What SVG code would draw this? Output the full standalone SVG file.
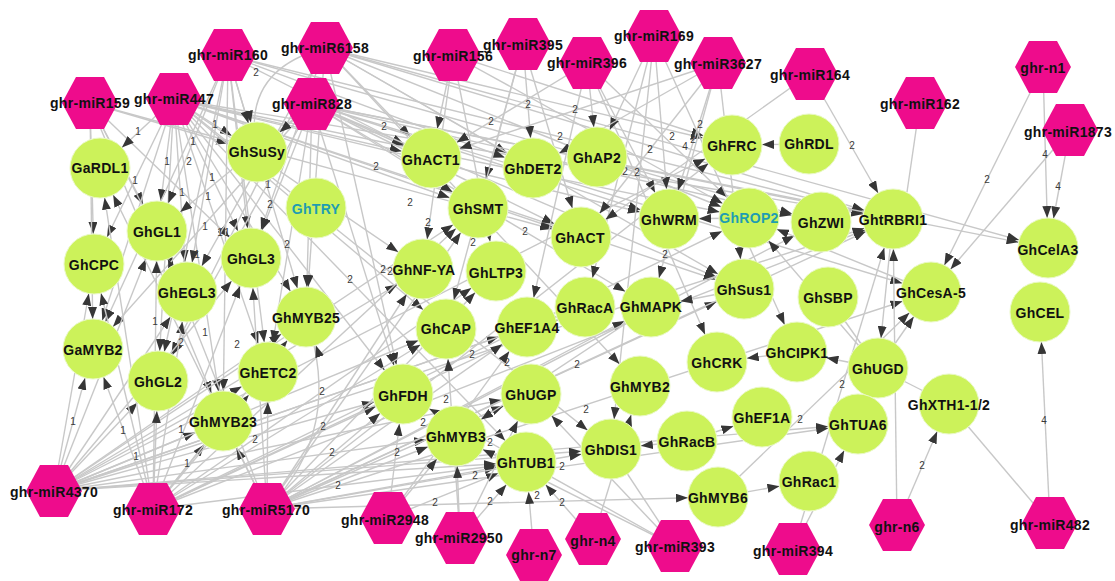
<svg xmlns="http://www.w3.org/2000/svg" width="1115" height="581" viewBox="0 0 1115 581">
<defs>
<marker id="a" markerUnits="userSpaceOnUse" viewBox="0 0 12 9" markerWidth="12" markerHeight="9" refX="42" refY="4.5" orient="auto"><path d="M0,0 L12,4.5 L0,9 z" fill="#363636"/></marker>
<polygon id="hx" points="-28,0 -14,-26 14,-26 28,0 14,26 -14,26" fill="#ee0c8c"/>
<style>
.e line, .e path { stroke:#c8c8c8; stroke-width:1.4; fill:none; marker-end:url(#a); }
.e .n { marker-end:none; }
.el text { font-family:"Liberation Sans", Arial, sans-serif; font-size:10px; fill:#3a3a3a; text-anchor:middle; }
.g circle { fill:#ccf25a; stroke:#eaf9c6; stroke-width:1; }
.t { font-family:"Liberation Sans", Arial, sans-serif; font-weight:bold; font-size:14px; letter-spacing:0.3px; fill:#111; text-anchor:middle; }
.teal { fill:#1e9db2; }
</style>
</defs>
<rect width="1115" height="581" fill="#fff"/>
<g id="connectors" class="e">
<!-- ghr-miR159 -->
<line x1="90" y1="103" x2="257" y2="152"/><line x1="90" y1="103" x2="157" y2="231"/><line x1="90" y1="103" x2="94" y2="264"/><line x1="90" y1="103" x2="251" y2="258"/><line x1="90" y1="103" x2="187" y2="292"/><line x1="90" y1="103" x2="223" y2="421"/><line x1="90" y1="103" x2="581" y2="237"/><line x1="90" y1="103" x2="93" y2="349"/>
<!-- ghr-miR447 -->
<line x1="174" y1="99" x2="100" y2="168"/><line x1="174" y1="99" x2="257" y2="152"/><line x1="174" y1="99" x2="157" y2="231"/><line x1="174" y1="99" x2="94" y2="264"/><line x1="174" y1="99" x2="251" y2="258"/><line x1="174" y1="99" x2="187" y2="292"/><line x1="174" y1="99" x2="93" y2="349"/><line x1="174" y1="99" x2="158" y2="381"/><line x1="174" y1="99" x2="268" y2="372"/><line x1="174" y1="99" x2="306" y2="317"/><line x1="174" y1="99" x2="223" y2="421"/><line x1="174" y1="99" x2="431" y2="158"/><line x1="174" y1="99" x2="478" y2="208"/><line x1="174" y1="99" x2="581" y2="237"/><line x1="174" y1="99" x2="669" y2="219"/><line x1="174" y1="99" x2="744" y2="289"/><line x1="174" y1="99" x2="893" y2="219"/><line x1="174" y1="99" x2="403" y2="394"/><line x1="174" y1="99" x2="611" y2="449"/><line x1="174" y1="99" x2="526" y2="462"/><line x1="174" y1="99" x2="446" y2="329"/><line x1="174" y1="99" x2="749" y2="218"/><line x1="174" y1="99" x2="423" y2="269"/>
<!-- ghr-miR160 -->
<line x1="228" y1="55" x2="157" y2="231"/><line x1="228" y1="55" x2="251" y2="258"/><line x1="228" y1="55" x2="187" y2="292"/><line x1="228" y1="55" x2="93" y2="349"/><line x1="228" y1="55" x2="158" y2="381"/><line x1="228" y1="55" x2="306" y2="317"/><line x1="228" y1="55" x2="223" y2="421"/><line x1="228" y1="55" x2="268" y2="372"/><line x1="228" y1="55" x2="431" y2="158"/><line x1="228" y1="55" x2="533" y2="168"/><line x1="228" y1="55" x2="821" y2="222"/><line x1="228" y1="55" x2="893" y2="219"/><line x1="228" y1="55" x2="257" y2="152"/>
<!-- ghr-miR6158 -->
<path d="M325,48 Q240,70 257,152"/>
<line x1="325" y1="48" x2="251" y2="258"/><line x1="325" y1="48" x2="306" y2="317"/><line x1="325" y1="48" x2="158" y2="381"/><line x1="325" y1="48" x2="403" y2="394"/><line x1="325" y1="48" x2="640" y2="386"/><line x1="325" y1="48" x2="431" y2="158"/><line x1="325" y1="48" x2="533" y2="168"/><line x1="325" y1="48" x2="732" y2="145"/><line x1="325" y1="48" x2="749" y2="218"/><line x1="325" y1="48" x2="893" y2="219"/><line x1="325" y1="48" x2="1048" y2="248"/><line x1="325" y1="48" x2="744" y2="289"/><line x1="325" y1="48" x2="187" y2="292"/>
<!-- ghr-miR828 -->
<line x1="312" y1="104" x2="431" y2="158"/><line x1="312" y1="104" x2="581" y2="237"/><line x1="312" y1="104" x2="306" y2="317"/><line x1="312" y1="104" x2="403" y2="394"/><line x1="312" y1="104" x2="93" y2="349"/><line x1="312" y1="104" x2="157" y2="231"/><line x1="312" y1="104" x2="251" y2="258"/><line x1="312" y1="104" x2="268" y2="372"/><line x1="312" y1="104" x2="257" y2="152"/><line x1="312" y1="104" x2="669" y2="219"/><line x1="312" y1="104" x2="821" y2="222"/><line x1="312" y1="104" x2="893" y2="219"/><line x1="312" y1="104" x2="1048" y2="248"/><line x1="312" y1="104" x2="744" y2="289"/><line x1="312" y1="104" x2="931" y2="292"/><line x1="312" y1="104" x2="651" y2="307"/><line x1="312" y1="104" x2="158" y2="381"/><line x1="312" y1="104" x2="478" y2="208"/>
<!-- ghr-miR4370 -->
<line x1="54" y1="491" x2="93" y2="349"/><line x1="54" y1="491" x2="223" y2="421"/><line x1="54" y1="491" x2="157" y2="231"/><line x1="54" y1="491" x2="158" y2="381"/><line x1="54" y1="491" x2="94" y2="264"/><line x1="54" y1="491" x2="187" y2="292"/><line x1="54" y1="491" x2="251" y2="258"/><line x1="54" y1="491" x2="268" y2="372"/><line x1="54" y1="491" x2="306" y2="317"/><line x1="54" y1="491" x2="478" y2="208"/><line x1="54" y1="491" x2="527" y2="327"/><line x1="54" y1="491" x2="403" y2="394"/><line x1="54" y1="491" x2="456" y2="436"/><line x1="54" y1="491" x2="526" y2="462"/><line x1="54" y1="491" x2="858" y2="424"/><line x1="54" y1="491" x2="446" y2="329"/><line x1="54" y1="491" x2="732" y2="145"/><line x1="54" y1="491" x2="531" y2="394"/><line x1="54" y1="491" x2="611" y2="449"/><line x1="54" y1="491" x2="423" y2="269"/><line x1="54" y1="491" x2="585" y2="307"/><line x1="54" y1="491" x2="893" y2="219"/>
<!-- ghr-miR172 -->
<line x1="153" y1="509" x2="93" y2="349"/><line x1="153" y1="509" x2="94" y2="264"/><line x1="153" y1="509" x2="223" y2="421"/><line x1="153" y1="509" x2="157" y2="231"/><line x1="153" y1="509" x2="158" y2="381"/><line x1="153" y1="509" x2="187" y2="292"/><line x1="153" y1="509" x2="251" y2="258"/><line x1="153" y1="509" x2="268" y2="372"/><line x1="153" y1="509" x2="306" y2="317"/><line x1="153" y1="509" x2="478" y2="208"/><line x1="153" y1="509" x2="403" y2="394"/><line x1="153" y1="509" x2="526" y2="462"/><line x1="153" y1="509" x2="585" y2="307"/><line x1="153" y1="509" x2="496" y2="271"/><line x1="153" y1="509" x2="446" y2="329"/><line x1="153" y1="509" x2="749" y2="218"/><line x1="153" y1="509" x2="100" y2="168"/><line x1="153" y1="509" x2="893" y2="219"/>
<!-- ghr-miR5170 -->
<path d="M267,509 Q345,430 306,317"/>
<line x1="267" y1="509" x2="223" y2="421"/><line x1="267" y1="509" x2="403" y2="394"/><line x1="267" y1="509" x2="526" y2="462"/><line x1="267" y1="509" x2="718" y2="497"/><line x1="267" y1="509" x2="858" y2="424"/><line x1="267" y1="509" x2="527" y2="327"/><line x1="267" y1="509" x2="478" y2="208"/><line x1="267" y1="509" x2="268" y2="372"/><line x1="267" y1="509" x2="251" y2="258"/><line x1="267" y1="509" x2="100" y2="168"/><line x1="267" y1="509" x2="423" y2="269"/><line x1="267" y1="509" x2="456" y2="436"/><line x1="267" y1="509" x2="611" y2="449"/><line x1="267" y1="509" x2="531" y2="394"/><line x1="267" y1="509" x2="651" y2="307"/><line x1="267" y1="509" x2="744" y2="289"/><line x1="267" y1="509" x2="821" y2="222"/><line x1="267" y1="509" x2="893" y2="219"/><line x1="267" y1="509" x2="732" y2="145"/><line x1="267" y1="509" x2="931" y2="292"/><line x1="267" y1="509" x2="496" y2="271"/><line x1="267" y1="509" x2="157" y2="231"/>
<!-- top middle miRNAs -->
<line x1="453" y1="55" x2="431" y2="158"/><line x1="453" y1="55" x2="496" y2="271"/><line x1="453" y1="55" x2="732" y2="145"/><line x1="453" y1="55" x2="749" y2="218"/><line x1="453" y1="55" x2="423" y2="269"/>
<line x1="523" y1="44" x2="533" y2="168"/><line x1="523" y1="44" x2="478" y2="208"/><line x1="523" y1="44" x2="581" y2="237"/><line x1="523" y1="44" x2="446" y2="329"/>
<line x1="587" y1="63" x2="749" y2="218"/><line x1="587" y1="63" x2="717" y2="362"/><line x1="587" y1="63" x2="669" y2="219"/><line x1="587" y1="63" x2="431" y2="158"/><line x1="587" y1="63" x2="597" y2="157"/><line x1="587" y1="63" x2="527" y2="327"/>
<line x1="654" y1="36" x2="611" y2="449"/><line x1="654" y1="36" x2="797" y2="352"/><line x1="654" y1="36" x2="597" y2="157"/><line x1="654" y1="36" x2="669" y2="219"/><line x1="654" y1="36" x2="585" y2="307"/>
<line x1="718" y1="63" x2="431" y2="158"/><line x1="718" y1="63" x2="669" y2="219"/><line x1="718" y1="63" x2="581" y2="237"/><line x1="718" y1="63" x2="651" y2="307"/><line x1="718" y1="63" x2="744" y2="289"/><line x1="718" y1="63" x2="533" y2="168"/>
<line x1="810" y1="74" x2="893" y2="219"/><line x1="810" y1="74" x2="581" y2="237"/>
<!-- right-hand miRNAs -->
<line class="n" x1="920" y1="103" x2="907" y2="192"/>
<line x1="1043" y1="67" x2="931" y2="292"/><line x1="1043" y1="67" x2="1048" y2="248"/>
<line x1="1070" y1="130" x2="1048" y2="248"/><line x1="1070" y1="130" x2="931" y2="292"/>
<line x1="897" y1="525" x2="949" y2="404"/><line x1="897" y1="525" x2="893" y2="219"/>
<line x1="1050" y1="523" x2="1040" y2="312"/><line class="n" x1="1050" y1="523" x2="949" y2="404"/>
<!-- bottom middle miRNAs -->
<line x1="388" y1="518" x2="403" y2="394"/><line x1="388" y1="518" x2="456" y2="436"/><line x1="388" y1="518" x2="526" y2="462"/><line x1="388" y1="518" x2="527" y2="327"/>
<line x1="460" y1="538" x2="526" y2="462"/><line x1="460" y1="538" x2="446" y2="329"/><line x1="460" y1="538" x2="456" y2="436"/><line x1="460" y1="538" x2="531" y2="394"/>
<line x1="534" y1="555" x2="526" y2="462"/>
<line x1="593" y1="539" x2="526" y2="462"/><line x1="593" y1="539" x2="640" y2="386"/>
<line class="n" x1="675" y1="546" x2="611" y2="449"/><line x1="675" y1="546" x2="403" y2="394"/><line x1="675" y1="546" x2="456" y2="436"/><line x1="675" y1="546" x2="531" y2="394"/>
<line x1="793" y1="549" x2="893" y2="219"/><line x1="793" y1="549" x2="858" y2="424"/>
<!-- gene to gene -->
<line x1="809" y1="144" x2="732" y2="145"/><line x1="797" y1="352" x2="717" y2="362"/><line x1="878" y1="368" x2="797" y2="352"/><line x1="687" y1="441" x2="611" y2="449"/><line x1="687" y1="441" x2="762" y2="417"/><line x1="718" y1="497" x2="809" y2="481"/><line x1="749" y1="218" x2="669" y2="219"/><line x1="744" y1="289" x2="651" y2="307"/><line x1="878" y1="368" x2="931" y2="292"/><line x1="893" y1="219" x2="878" y2="368"/><line x1="718" y1="497" x2="931" y2="292"/><line class="n" x1="828" y1="297" x2="878" y2="368"/><line class="n" x1="878" y1="368" x2="949" y2="404"/><line x1="651" y1="307" x2="456" y2="436"/><line x1="931" y1="292" x2="749" y2="218"/><line x1="878" y1="368" x2="749" y2="218"/>
<g id="edge-labels" class="el">
<text x="138" y="135">1</text><text x="215" y="128">1</text><text x="193" y="145">1</text><text x="212" y="181">1</text><text x="167" y="165">1</text><text x="135" y="184">1</text><text x="268" y="188">1</text><text x="182" y="196">1</text><text x="208" y="200">1</text><text x="205" y="230">1</text><text x="220" y="236">1</text><text x="227" y="236">1</text><text x="197" y="258">1</text><text x="155" y="325">1</text><text x="205" y="336">1</text><text x="73" y="425">1</text><text x="123" y="434">1</text><text x="136" y="460">1</text><text x="187" y="467">1</text><text x="181" y="433">1</text>
<text x="256" y="76">2</text><text x="189" y="165">2</text><text x="270" y="208">2</text><text x="287" y="248">2</text><text x="181" y="346">2</text><text x="237" y="348">2</text><text x="255" y="443">2</text><text x="322" y="395">2</text><text x="323" y="430">2</text><text x="332" y="456">2</text><text x="397" y="456">2</text><text x="338" y="489">2</text><text x="423" y="426">2</text><text x="446" y="403">2</text><text x="490" y="446">2</text><text x="475" y="479">2</text><text x="490" y="505">2</text><text x="435" y="506">2</text><text x="537" y="499">2</text><text x="562" y="470">2</text><text x="562" y="506">2</text><text x="384" y="130">2</text><text x="491" y="125">2</text><text x="528" y="108">2</text><text x="376" y="170">2</text><text x="560" y="140">2</text><text x="575" y="113">2</text><text x="700" y="128">2</text><text x="672" y="140">2</text><text x="693" y="143">2</text><text x="650" y="153">2</text><text x="625" y="175">2</text><text x="637" y="176">2</text><text x="410" y="206">2</text><text x="428" y="226">2</text><text x="473" y="246">2</text><text x="525" y="235">2</text><text x="383" y="273">2</text><text x="390" y="275">2</text><text x="350" y="283">2</text><text x="472" y="358">2</text><text x="507" y="366">2</text><text x="577" y="368">2</text><text x="665" y="258">2</text><text x="586" y="413">2</text><text x="800" y="423">2</text><text x="842" y="388">2</text><text x="852" y="149">2</text><text x="987" y="183">2</text><text x="922" y="469">2</text>
<text x="685" y="150">4</text><text x="1045" y="158">4</text><text x="1058" y="190">4</text><text x="1044" y="424">4</text>
</g>
</g>
<g id="ghr-miR159"><use href="#hx" x="90" y="103"/><text class="t" x="90" y="108">ghr-miR159</text></g>
<g id="ghr-miR447"><use href="#hx" x="174" y="99"/><text class="t" x="174" y="104">ghr-miR447</text></g>
<g id="ghr-miR160"><use href="#hx" x="228" y="55"/><text class="t" x="228" y="60">ghr-miR160</text></g>
<g id="ghr-miR6158"><use href="#hx" x="325" y="48"/><text class="t" x="325" y="53">ghr-miR6158</text></g>
<g id="ghr-miR828"><use href="#hx" x="312" y="104"/><text class="t" x="312" y="109">ghr-miR828</text></g>
<g id="ghr-miR156"><use href="#hx" x="453" y="55"/><text class="t" x="453" y="61">ghr-miR156</text></g>
<g id="ghr-miR395"><use href="#hx" x="523" y="44"/><text class="t" x="523" y="50">ghr-miR395</text></g>
<g id="ghr-miR396"><use href="#hx" x="587" y="63"/><text class="t" x="587" y="68">ghr-miR396</text></g>
<g id="ghr-miR169"><use href="#hx" x="654" y="36"/><text class="t" x="654" y="41">ghr-miR169</text></g>
<g id="ghr-miR3627"><use href="#hx" x="718" y="63"/><text class="t" x="718" y="69">ghr-miR3627</text></g>
<g id="ghr-miR164"><use href="#hx" x="810" y="74"/><text class="t" x="810" y="80">ghr-miR164</text></g>
<g id="ghr-miR162"><use href="#hx" x="920" y="103"/><text class="t" x="920" y="109">ghr-miR162</text></g>
<g id="ghr-n1"><use href="#hx" x="1043" y="67"/><text class="t" x="1043" y="73">ghr-n1</text></g>
<g id="ghr-miR1873"><use href="#hx" x="1070" y="130"/><text class="t" x="1068" y="137">ghr-miR1873</text></g>
<g id="ghr-miR4370"><use href="#hx" x="54" y="491"/><text class="t" x="54" y="497">ghr-miR4370</text></g>
<g id="ghr-miR172"><use href="#hx" x="153" y="509"/><text class="t" x="153" y="515">ghr-miR172</text></g>
<g id="ghr-miR5170"><use href="#hx" x="267" y="509"/><text class="t" x="266" y="515">ghr-miR5170</text></g>
<g id="ghr-miR2948"><use href="#hx" x="388" y="518"/><text class="t" x="385" y="525">ghr-miR2948</text></g>
<g id="ghr-miR2950"><use href="#hx" x="460" y="538"/><text class="t" x="459" y="543">ghr-miR2950</text></g>
<g id="ghr-n7"><use href="#hx" x="534" y="555"/><text class="t" x="534" y="560">ghr-n7</text></g>
<g id="ghr-n4"><use href="#hx" x="593" y="539"/><text class="t" x="593" y="546">ghr-n4</text></g>
<g id="ghr-miR393"><use href="#hx" x="675" y="546"/><text class="t" x="675" y="552">ghr-miR393</text></g>
<g id="ghr-miR394"><use href="#hx" x="793" y="549"/><text class="t" x="793" y="556">ghr-miR394</text></g>
<g id="ghr-n6"><use href="#hx" x="897" y="525"/><text class="t" x="897" y="532">ghr-n6</text></g>
<g id="ghr-miR482"><use href="#hx" x="1050" y="523"/><text class="t" x="1050" y="530">ghr-miR482</text></g>
<g id="GaRDL1" class="g"><circle cx="100" cy="168" r="30"/><text class="t" x="100" y="173">GaRDL1</text></g>
<g id="GhSuSy" class="g"><circle cx="257" cy="152" r="30"/><text class="t" x="257" y="157">GhSuSy</text></g>
<g id="GhTRY" class="g"><circle cx="316" cy="208" r="30"/><text class="t teal" x="316" y="214">GhTRY</text></g>
<g id="GhACT1" class="g"><circle cx="431" cy="158" r="30"/><text class="t" x="431" y="165">GhACT1</text></g>
<g id="GhDET2" class="g"><circle cx="533" cy="168" r="30"/><text class="t" x="533" y="174">GhDET2</text></g>
<g id="GhAP2" class="g"><circle cx="597" cy="157" r="30"/><text class="t" x="597" y="163">GhAP2</text></g>
<g id="GhFRC" class="g"><circle cx="732" cy="145" r="30"/><text class="t" x="732" y="151">GhFRC</text></g>
<g id="GhRDL" class="g"><circle cx="809" cy="144" r="30"/><text class="t" x="809" y="149">GhRDL</text></g>
<g id="GhtRBRI1" class="g"><circle cx="893" cy="219" r="30"/><text class="t" x="893" y="225">GhtRBRI1</text></g>
<g id="GhCelA3" class="g"><circle cx="1048" cy="248" r="30"/><text class="t" x="1048" y="255">GhCelA3</text></g>
<g id="GhCEL" class="g"><circle cx="1040" cy="312" r="30"/><text class="t" x="1040" y="318">GhCEL</text></g>
<g id="GhGL1" class="g"><circle cx="157" cy="231" r="30"/><text class="t" x="157" y="237">GhGL1</text></g>
<g id="GhCPC" class="g"><circle cx="94" cy="264" r="30"/><text class="t" x="94" y="270">GhCPC</text></g>
<g id="GhGL3" class="g"><circle cx="251" cy="258" r="30"/><text class="t" x="251" y="264">GhGL3</text></g>
<g id="GhEGL3" class="g"><circle cx="187" cy="292" r="30"/><text class="t" x="187" y="298">GhEGL3</text></g>
<g id="GaMYB2" class="g"><circle cx="93" cy="349" r="30"/><text class="t" x="93" y="355">GaMYB2</text></g>
<g id="GhGL2" class="g"><circle cx="158" cy="381" r="30"/><text class="t" x="158" y="387">GhGL2</text></g>
<g id="GhETC2" class="g"><circle cx="268" cy="372" r="30"/><text class="t" x="268" y="378">GhETC2</text></g>
<g id="GhMYB25" class="g"><circle cx="306" cy="317" r="30"/><text class="t" x="306" y="323">GhMYB25</text></g>
<g id="GhMYB23" class="g"><circle cx="223" cy="421" r="30"/><text class="t" x="223" y="427">GhMYB23</text></g>
<g id="GhSMT" class="g"><circle cx="478" cy="208" r="30"/><text class="t" x="478" y="214">GhSMT</text></g>
<g id="GhNF-YA" class="g"><circle cx="423" cy="269" r="30"/><text class="t" x="424" y="275">GhNF-YA</text></g>
<g id="GhLTP3" class="g"><circle cx="496" cy="271" r="30"/><text class="t" x="496" y="278">GhLTP3</text></g>
<g id="GhACT" class="g"><circle cx="581" cy="237" r="30"/><text class="t" x="580" y="243">GhACT</text></g>
<g id="GhWRM" class="g"><circle cx="669" cy="219" r="30"/><text class="t" x="669" y="225">GhWRM</text></g>
<g id="GhROP2" class="g"><circle cx="749" cy="218" r="30"/><text class="t teal" x="749" y="223">GhROP2</text></g>
<g id="GhZWI" class="g"><circle cx="821" cy="222" r="30"/><text class="t" x="821" y="228" fill="#26301c">GhZWI</text></g>
<g id="GhCAP" class="g"><circle cx="446" cy="329" r="30"/><text class="t" x="446" y="334">GhCAP</text></g>
<g id="GhEF1A4" class="g"><circle cx="527" cy="327" r="30"/><text class="t" x="527" y="333">GhEF1A4</text></g>
<g id="GhRacA" class="g"><circle cx="585" cy="307" r="30"/><text class="t" x="585" y="313">GhRacA</text></g>
<g id="GhMAPK" class="g"><circle cx="651" cy="307" r="30"/><text class="t" x="651" y="312">GhMAPK</text></g>
<g id="GhSus1" class="g"><circle cx="744" cy="289" r="30"/><text class="t" x="744" y="295">GhSus1</text></g>
<g id="GhSBP" class="g"><circle cx="828" cy="297" r="30"/><text class="t" x="828" y="303">GhSBP</text></g>
<g id="GhCesA-5" class="g"><circle cx="931" cy="292" r="30"/><text class="t" x="931" y="298">GhCesA-5</text></g>
<g id="GhCRK" class="g"><circle cx="717" cy="362" r="30"/><text class="t" x="717" y="368">GhCRK</text></g>
<g id="GhCIPK1" class="g"><circle cx="797" cy="352" r="30"/><text class="t" x="797" y="358">GhCIPK1</text></g>
<g id="GhUGD" class="g"><circle cx="878" cy="368" r="30"/><text class="t" x="878" y="374">GhUGD</text></g>
<g id="GhXTH1-1_2" class="g"><circle cx="949" cy="404" r="30"/><text class="t" x="949" y="410">GhXTH1-1/2</text></g>
<g id="GhFDH" class="g"><circle cx="403" cy="394" r="30"/><text class="t" x="403" y="401">GhFDH</text></g>
<g id="GhUGP" class="g"><circle cx="531" cy="394" r="30"/><text class="t" x="531" y="400">GhUGP</text></g>
<g id="GhMYB3" class="g"><circle cx="456" cy="436" r="30"/><text class="t" x="456" y="442">GhMYB3</text></g>
<g id="GhTUB1" class="g"><circle cx="526" cy="462" r="30"/><text class="t" x="526" y="468">GhTUB1</text></g>
<g id="GhMYB2" class="g"><circle cx="640" cy="386" r="30"/><text class="t" x="640" y="392">GhMYB2</text></g>
<g id="GhDIS1" class="g"><circle cx="611" cy="449" r="30"/><text class="t" x="611" y="455">GhDIS1</text></g>
<g id="GhRacB" class="g"><circle cx="687" cy="441" r="30"/><text class="t" x="687" y="447">GhRacB</text></g>
<g id="GhEF1A" class="g"><circle cx="762" cy="417" r="30"/><text class="t" x="762" y="423">GhEF1A</text></g>
<g id="GhTUA6" class="g"><circle cx="858" cy="424" r="30"/><text class="t" x="858" y="430">GhTUA6</text></g>
<g id="GhMYB6" class="g"><circle cx="718" cy="497" r="30"/><text class="t" x="718" y="503">GhMYB6</text></g>
<g id="GhRac1" class="g"><circle cx="809" cy="481" r="30"/><text class="t" x="809" y="487">GhRac1</text></g>
</svg>
